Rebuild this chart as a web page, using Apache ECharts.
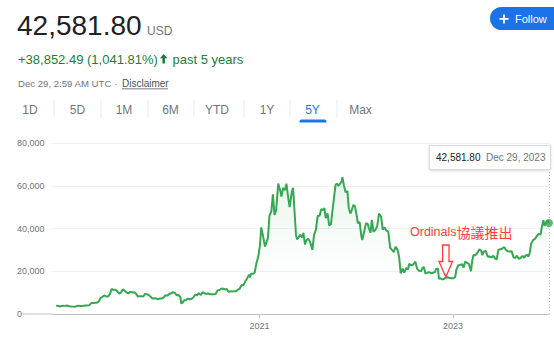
<!DOCTYPE html>
<html><head><meta charset="utf-8">
<script src="https://cdn.jsdelivr.net/npm/echarts@6/dist/echarts.min.js"></script>
<style>html,body{margin:0;padding:0;background:#fff}#c{width:554px;height:338px}</style>
</head><body><div id="c"></div>
<script>
// ---- data ----
const dates = [
'2018-11-26','2018-12-03','2018-12-10','2018-12-17','2018-12-24','2018-12-31','2019-01-07','2019-01-14','2019-01-21','2019-01-28',
'2019-02-04','2019-02-11','2019-02-18','2019-02-25','2019-03-04','2019-03-11','2019-03-18','2019-03-25','2019-04-01','2019-04-08',
'2019-04-15','2019-04-22','2019-04-29','2019-05-06','2019-05-13','2019-05-20','2019-05-27','2019-06-03','2019-06-10','2019-06-17',
'2019-06-24','2019-07-01','2019-07-08','2019-07-15','2019-07-22','2019-07-29','2019-08-05','2019-08-12','2019-08-19','2019-08-26',
'2019-09-02','2019-09-09','2019-09-16','2019-09-23','2019-09-30','2019-10-07','2019-10-14','2019-10-21','2019-10-28','2019-11-04',
'2019-11-11','2019-11-18','2019-11-25','2019-12-02','2019-12-09','2019-12-16','2019-12-23','2019-12-30','2020-01-06','2020-01-13',
'2020-01-20','2020-01-27','2020-02-03','2020-02-10','2020-02-17','2020-02-24','2020-03-02','2020-03-09','2020-03-12','2020-03-16',
'2020-03-23','2020-03-30','2020-04-06','2020-04-13','2020-04-20','2020-04-27','2020-05-04','2020-05-11','2020-05-18','2020-05-25',
'2020-06-01','2020-06-08','2020-06-15','2020-06-22','2020-06-29','2020-07-06','2020-07-13','2020-07-20','2020-07-27','2020-08-03',
'2020-08-10','2020-08-17','2020-08-24','2020-08-31','2020-09-07','2020-09-14','2020-09-21','2020-09-28','2020-10-05','2020-10-12',
'2020-10-19','2020-10-26','2020-11-02','2020-11-09','2020-11-16','2020-11-23','2020-11-27','2020-11-30','2020-12-07','2020-12-14',
'2020-12-21','2020-12-28','2021-01-03','2021-01-08','2021-01-14','2021-01-22','2021-01-29','2021-02-02','2021-02-08','2021-02-15',
'2021-02-21','2021-02-27','2021-03-05','2021-03-13','2021-03-20','2021-03-25','2021-04-01','2021-04-08','2021-04-13','2021-04-18',
'2021-04-25','2021-05-03','2021-05-08','2021-05-13','2021-05-19','2021-05-23','2021-05-27','2021-06-04','2021-06-11','2021-06-16',
'2021-06-22','2021-06-27','2021-07-04','2021-07-11','2021-07-20','2021-07-26','2021-08-02','2021-08-09','2021-08-16','2021-08-22',
'2021-08-29','2021-09-03','2021-09-08','2021-09-15','2021-09-21','2021-09-28','2021-10-04','2021-10-10','2021-10-15','2021-10-20',
'2021-10-27','2021-11-01','2021-11-07','2021-11-10','2021-11-16','2021-11-22','2021-11-29','2021-12-04','2021-12-10','2021-12-15',
'2021-12-21','2021-12-27','2022-01-03','2022-01-07','2022-01-14','2022-01-21','2022-01-24','2022-01-31','2022-02-07','2022-02-14',
'2022-02-18','2022-02-24','2022-03-01','2022-03-07','2022-03-14','2022-03-21','2022-03-28','2022-04-05','2022-04-11','2022-04-18',
'2022-04-25','2022-05-02','2022-05-09','2022-05-16','2022-05-23','2022-05-30','2022-06-06','2022-06-12','2022-06-18','2022-06-25',
'2022-07-01','2022-07-08','2022-07-15','2022-07-20','2022-07-27','2022-08-03','2022-08-12','2022-08-19','2022-08-26','2022-09-02',
'2022-09-09','2022-09-13','2022-09-19','2022-09-26','2022-10-03','2022-10-10','2022-10-17','2022-10-24','2022-10-29','2022-11-05',
'2022-11-09','2022-11-14','2022-11-21','2022-11-28','2022-12-05','2022-12-12','2022-12-19','2022-12-26','2023-01-02','2023-01-09',
'2023-01-14','2023-01-21','2023-01-28','2023-02-04','2023-02-10','2023-02-16','2023-02-23','2023-03-02','2023-03-10','2023-03-14',
'2023-03-19','2023-03-26','2023-04-02','2023-04-11','2023-04-18','2023-04-21','2023-04-28','2023-05-05','2023-05-12','2023-05-19',
'2023-05-26','2023-06-02','2023-06-10','2023-06-15','2023-06-21','2023-06-28','2023-07-05','2023-07-13','2023-07-20','2023-07-27',
'2023-08-03','2023-08-10','2023-08-17','2023-08-24','2023-08-30','2023-09-06','2023-09-13','2023-09-20','2023-09-27','2023-10-02',
'2023-10-09','2023-10-12','2023-10-17','2023-10-23','2023-10-30','2023-11-06','2023-11-13','2023-11-20','2023-11-27','2023-12-04',
'2023-12-08','2023-12-12','2023-12-18','2023-12-22','2023-12-29'
];
const prices = [
3800,3900,3500,3700,3900,3800,4000,3600,3550,3450,
3400,3600,3900,3800,3800,3900,4000,4000,4150,5100,
5100,5300,5300,5800,7500,8000,8700,8200,8200,9200,
11800,11200,11400,10600,9600,10000,11500,10900,10100,9600,
10400,10100,10200,9700,8200,8300,8300,8200,9400,9300,
8800,8100,7200,7400,7300,6900,7300,7200,7800,8800,
8600,9300,9700,10200,9900,8800,8900,7900,5000,5100,
6400,6400,7200,6900,7100,7700,9000,8800,9700,8900,
10200,9700,9400,9600,9200,9300,9200,9400,11000,11200,
11800,11900,11500,11700,10300,10700,10500,10700,10600,11400,
11900,13600,13500,15300,16700,18400,17100,18800,18800,19300,
23800,27000,32000,40500,37000,31500,34000,35500,46000,48000,
56000,46300,48500,61000,58000,55000,59000,58000,61000,56000,
50000,57000,59000,49000,37000,35000,35500,37000,35800,38000,
32500,34500,35200,33800,30000,37000,39500,46000,46000,49000,
48700,49500,44800,47100,41500,42000,49000,55000,60400,61000,
60000,61000,62000,64000,60000,57000,57500,49500,47000,48500,
51000,50500,46000,42500,43000,36000,34600,38500,42500,42000,
40000,38000,44000,38500,39300,41000,47000,45500,39500,40500,
39000,38500,31000,30000,29000,31500,30000,26500,19000,21200,
19300,21500,20800,23500,22800,23000,24500,21200,20200,20000,
21600,22000,19000,19200,19600,19100,19300,19500,21000,21300,
16500,16700,16200,16400,17000,17200,16800,16700,16700,17200,
20900,22700,23000,23300,21700,24600,23900,23400,20000,24600,
27600,27500,28400,30300,29400,27600,29300,29500,26800,26900,
26500,27200,25800,25600,30000,30300,30500,31400,29900,29300,
29200,29400,26600,26200,27300,25800,26200,27200,26300,27500,
27600,26800,28400,33000,34600,35100,36500,37400,37200,41900,
43900,41300,42700,43800,42581.80
];
const yTicks = [0, 20000, 40000, 60000, 80000];
const xLabelDates = ['2021-01-01', '2023-01-01'];
const xRange = ['2018-11-11', '2023-12-29'];
const headline = { price: '42,581.80', currency: 'USD', change: '+38,852.49 (1,041.81%)', period: 'past 5 years', stamp: 'Dec 29, 2:59 AM UTC ·', disclaimer: 'Disclaimer' };
const tabs = ['1D', '5D', '1M', '6M', 'YTD', '1Y', '5Y', 'Max'];
const activeTab = '5Y';
const annotationLatin = 'Ordinals';
const annotationCJK = '協議推出';

// ---- chart ----
const FONT = '"Liberation Sans", Arial, sans-serif';
const GREEN = '#34a853';
const ts = d => +new Date(d + 'T00:00:00Z');
const chart = echarts.init(document.getElementById('c'), null, { renderer: 'svg' });
const seriesData = dates.map((d, i) => [ts(d), prices[i]]);
const lastIdx = dates.length - 1;
const fmt = v => Number(v).toLocaleString('en-US', { minimumFractionDigits: 0, maximumFractionDigits: 2 });
const fmt2 = v => Number(v).toLocaleString('en-US', { minimumFractionDigits: 2, maximumFractionDigits: 2 });
const lastLabelDate = new Date(ts(dates[lastIdx])).toLocaleDateString('en-US', { month: 'short', day: 'numeric', year: 'numeric', timeZone: 'UTC' });

const tabX = [30, 77.5, 124, 170.5, 217, 267, 312.5, 360.5];
const sepX = [53.5, 100.5, 147.5, 193.5, 243.5, 289.5, 336.5];

const graphics = [];
graphics.push({ type: 'text', style: { x: 17, y: 25.5, text: headline.price, fill: '#202124', font: '28px ' + FONT, verticalAlign: 'middle' } });
graphics.push({ type: 'text', style: { x: 147, y: 31, text: headline.currency, fill: '#70757a', font: '12px ' + FONT, verticalAlign: 'middle' } });
graphics.push({ type: 'text', style: { x: 18, y: 59.5, text: headline.change, fill: '#188038', font: '13px ' + FONT, verticalAlign: 'middle' } });
graphics.push({ type: 'polygon', shape: { points: [[163.7, 54], [167.5, 58.3], [165, 58.3], [165, 63.5], [162.4, 63.5], [162.4, 58.3], [159.9, 58.3]] }, style: { fill: '#188038' } });
graphics.push({ type: 'text', style: { x: 172.5, y: 59.5, text: headline.period, fill: '#188038', font: '13px ' + FONT, verticalAlign: 'middle' } });
graphics.push({ type: 'text', style: { x: 18, y: 83.5, text: headline.stamp, fill: '#70757a', font: '9.6px ' + FONT, verticalAlign: 'middle' } });
graphics.push({ type: 'text', style: { x: 122, y: 83.5, text: headline.disclaimer, fill: '#4d5156', font: '10px ' + FONT, verticalAlign: 'middle' } });
graphics.push({ type: 'rect', shape: { x: 122, y: 88.5, width: 46, height: 0.8 }, style: { fill: '#4d5156' } });
tabs.forEach((t, i) => {
  graphics.push({ type: 'text', style: { x: tabX[i], y: 109.5, text: t, fill: t === activeTab ? '#1a73e8' : '#70757a', font: '12px ' + FONT, align: 'center', verticalAlign: 'middle' } });
});
sepX.forEach(x => graphics.push({ type: 'rect', shape: { x: x, y: 100, width: 1, height: 18 }, style: { fill: '#e8eaed' } }));
graphics.push({ type: 'rect', shape: { x: 299.5, y: 119.5, width: 27, height: 3, r: [2, 2, 0, 0] }, style: { fill: '#1a73e8' } });
graphics.push({ type: 'rect', shape: { x: 490, y: 7, width: 74, height: 23, r: 11.5 }, style: { fill: '#1a73e8' } });
graphics.push({ type: 'rect', shape: { x: 499.5, y: 18, width: 9, height: 1.8 }, style: { fill: '#fff' } });
graphics.push({ type: 'rect', shape: { x: 503.1, y: 14.4, width: 1.8, height: 9 }, style: { fill: '#fff' } });
graphics.push({ type: 'text', style: { x: 515, y: 18.8, text: 'Follow', fill: '#fff', font: '500 11px ' + FONT, verticalAlign: 'middle' } });
graphics.push({ type: 'rect', shape: { x: 22, y: 313.5, width: 30, height: 1 }, style: { fill: '#bdc1c6' } });
graphics.push({ type: 'rect', z: 50, shape: { x: 429.5, y: 145.5, width: 121, height: 24 }, style: { fill: '#fff', stroke: '#dadce0', lineWidth: 1, shadowBlur: 3, shadowColor: 'rgba(0,0,0,0.15)', shadowOffsetY: 1 } });
graphics.push({ type: 'text', z: 51, style: { x: 436, y: 157.5, text: fmt2(prices[lastIdx]), fill: '#202124', font: '10px ' + FONT, verticalAlign: 'middle' } });
graphics.push({ type: 'text', z: 51, style: { x: 486, y: 157.5, text: lastLabelDate, fill: '#70757a', font: '10px ' + FONT, verticalAlign: 'middle' } });
graphics.push({ type: 'text', z: 40, style: { x: 410, y: 232, text: '{a|' + annotationLatin + '}{b|' + annotationCJK + '}', verticalAlign: 'middle',
  rich: { a: { fill: '#ff3b3b', fontSize: 12.5, fontFamily: FONT }, b: { fill: '#ff3b3b', fontSize: 14, fontFamily: '"Noto Sans CJK TC", sans-serif' } } } });
graphics.push({ type: 'polygon', z: 40, shape: { points: [[442.6, 245], [449, 245], [449, 261.5], [452.5, 261.5], [445.8, 277], [439, 261.5], [442.6, 261.5]] }, style: { fill: 'none', stroke: '#ff3b3b', lineWidth: 1.3 } });

const xTickValues = xLabelDates.map(ts);
chart.setOption({
  animation: false,
  backgroundColor: '#fff',
  grid: { left: 52, right: 5, top: 143, bottom: 24 },
  xAxis: {
    type: 'value',
    min: ts(xRange[0]), max: ts(xRange[1]),
    axisLine: { show: true, lineStyle: { color: '#bdc1c6', width: 1 } },
    axisTick: { show: true, length: 4, lineStyle: { color: '#bdc1c6' }, customValues: xTickValues },
    axisLabel: { customValues: xTickValues, formatter: v => String(new Date(v).getUTCFullYear()), color: '#70757a', fontSize: 9, fontFamily: FONT, margin: 7 },
    splitLine: { show: false }
  },
  yAxis: {
    type: 'value', min: yTicks[0], max: yTicks[yTicks.length - 1], interval: yTicks[1] - yTicks[0],
    axisLine: { show: false }, axisTick: { show: false },
    axisLabel: { formatter: v => fmt(v), color: '#70757a', fontSize: 9, fontFamily: FONT, align: 'left', margin: 35 },
    splitLine: { lineStyle: { color: '#eef0f2', width: 1 } }
  },
  series: [
    {
      type: 'line', data: seriesData, showSymbol: false, smooth: false,
      lineStyle: { color: GREEN, width: 2 },
      areaStyle: { color: new echarts.graphic.LinearGradient(0, 0, 0, 1, [
        { offset: 0, color: 'rgba(52,168,83,0.16)' }, { offset: 0.6, color: 'rgba(52,168,83,0.02)' }, { offset: 1, color: 'rgba(52,168,83,0)' }]) },
      markLine: { silent: true, symbol: 'none', label: { show: false },
        lineStyle: { color: '#bdc1c6', type: [1, 2], width: 1 },
        data: [{ xAxis: ts(dates[lastIdx]) }] },
      z: 3
    },
    {
      type: 'scatter', data: [[ts(dates[lastIdx]), prices[lastIdx]]], symbolSize: 8,
      itemStyle: { color: GREEN }, z: 5
    }
  ],
  graphic: graphics
});
</script>
</body></html>
